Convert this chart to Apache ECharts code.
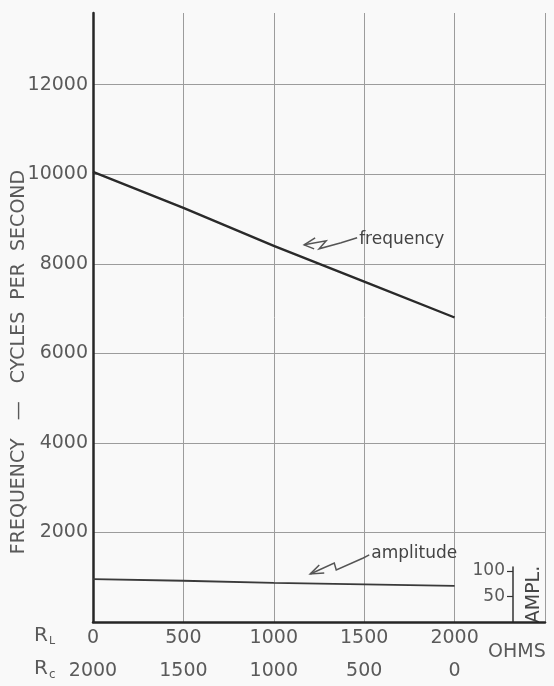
<!DOCTYPE html>
<html><head><meta charset="utf-8">
<script src="https://cdn.jsdelivr.net/npm/echarts@6/dist/echarts.min.js"></script>
<style>html,body{margin:0;padding:0;background:#f9f9f9;}#c{width:554px;height:686px;}</style>
</head><body><div id="c"></div>
<script>
// ---- data ----
var ohmsRL = [0, 500, 1000, 1500, 2000];
var frequency = [10050, 9250, 8400, 7600, 6800];
var amplitude = [84, 81, 77, 74, 71];
var rlTickLabels = ['0', '500', '1000', '1500', '2000'];
var rcTickLabels = ['2000', '1500', '1000', '500', '0'];
var freqTickLabels = ['2000', '4000', '6000', '8000', '10000', '12000'];
var amplTickValues = [50, 100];
var freqNote = {text: 'frequency', x: 1472, y: 8490};
var amplNote = {text: 'amplitude', x: 1539, y: 1475};

var FONT = 'DejaVu Sans';
var chart = echarts.init(document.getElementById('c'), null, {renderer: 'canvas'});
var dark = '#262626', grid = '#9c9c9c', txt = '#5a5a5a';

chart.setOption({
  backgroundColor: '#f9f9f9',
  animation: false,
  grid: [
    {left: 93, right: 9, top: 13, bottom: 64},
    {left: 93, right: 9, top: 567, bottom: 64}
  ],
  xAxis: [
    {gridIndex: 0, type: 'value', min: 0, max: 2500, interval: 500,
     axisLine: {show: true, onZero: false, lineStyle: {color: dark, width: 2.5}},
     axisTick: {show: false},
     axisLabel: {margin: 7, color: txt, fontFamily: FONT, fontSize: 19,
       formatter: function (v, i) { return rlTickLabels[i] !== undefined ? rlTickLabels[i] : ''; }},
     splitLine: {show: true, lineStyle: {color: grid, width: 1}}},
    {gridIndex: 0, type: 'value', min: 0, max: 2500, interval: 500, position: 'bottom', offset: 33,
     axisLine: {show: false}, axisTick: {show: false}, splitLine: {show: false},
     axisLabel: {margin: 7, color: txt, fontFamily: FONT, fontSize: 19,
       formatter: function (v, i) { return rcTickLabels[i] !== undefined ? rcTickLabels[i] : ''; }}},
    {gridIndex: 1, type: 'value', min: 0, max: 2500, show: false}
  ],
  yAxis: [
    {gridIndex: 0, type: 'value', min: 0, max: 13600, interval: 2000,
     axisLine: {show: true, onZero: false, lineStyle: {color: dark, width: 2.5}},
     axisTick: {show: false},
     axisLabel: {margin: 5, color: txt, fontFamily: FONT, fontSize: 19,
       showMaxLabel: false, showMinLabel: false,
       formatter: function (v) { var s = String(v); return freqTickLabels.indexOf(s) >= 0 ? s : ''; }},
     splitLine: {show: true, showMaxLine: false, lineStyle: {color: grid, width: 1}}},
    {gridIndex: 1, type: 'value', min: 0, max: 108, position: 'right', offset: -32,
     axisLine: {show: true, onZero: false, lineStyle: {color: '#333', width: 1.5}},
     axisTick: {show: true, inside: true, length: 6, customValues: amplTickValues, lineStyle: {color: '#333', width: 1.2}},
     axisLabel: {inside: true, margin: 8, color: txt, fontFamily: FONT, fontSize: 17, customValues: amplTickValues},
     splitLine: {show: false},
     name: 'AMPL.', nameLocation: 'middle', nameRotate: 90, nameGap: 12,
     nameTextStyle: {color: '#444', fontFamily: FONT, fontSize: 19}}
  ],
  series: [
    {name: 'frequency', type: 'line', xAxisIndex: 0, yAxisIndex: 0,
     data: ohmsRL.map(function (x, i) { return [x, frequency[i]]; }),
     showSymbol: false, lineStyle: {color: '#2a2a2a', width: 2.4}},
    {name: 'amplitude', type: 'line', xAxisIndex: 2, yAxisIndex: 1,
     data: ohmsRL.map(function (x, i) { return [x, amplitude[i]]; }),
     showSymbol: false, lineStyle: {color: '#3a3a3a', width: 1.8}}
  ]
});

function note(n, zig, head) {
  var p = chart.convertToPixel({xAxisIndex: 0, yAxisIndex: 0}, [n.x, n.y]);
  var pts = zig.map(function (d) { return [p[0] + d[0], p[1] + d[1]]; });
  var hd = head.map(function (d) { return [p[0] + d[0], p[1] + d[1]]; });
  return [
    {type: 'text', left: p[0], top: p[1] - 11, style: {text: n.text, fill: '#444', font: '17px "' + FONT + '"'}},
    {type: 'polyline', shape: {points: pts}, style: {stroke: '#555', lineWidth: 1.5, fill: null}},
    {type: 'polyline', shape: {points: hd}, style: {stroke: '#555', lineWidth: 1.5, fill: null}}
  ];
}

var g = [];
g = g.concat(note(freqNote, [[-55, 3], [-33, -1], [-40, 7], [-18, 1], [-2, -4]], [[-44, -4], [-55, 3], [-45, 7]]));
g = g.concat(note(amplNote, [[-61, 18], [-37, 7], [-35, 14], [-8, 2], [-2, -1]], [[-52, 9], [-61, 18], [-47, 17]]));
g.push({type: 'text', x: 19, y: 362, rotation: Math.PI / 2,
  style: {text: 'FREQUENCY   —   CYCLES  PER  SECOND', fill: txt, font: '19px "' + FONT + '"', align: 'center', verticalAlign: 'middle'}});
g.push({type: 'text', left: 34, top: 626, style: {text: '{r|R}{s|L}', rich: {r: {fill: txt, font: '20px "' + FONT + '"'}, s: {fill: txt, font: '11px "' + FONT + '"', padding: [11, 0, 0, 1]}}}});
g.push({type: 'text', left: 34, top: 659, style: {text: '{r|R}{s|c}', rich: {r: {fill: txt, font: '20px "' + FONT + '"'}, s: {fill: txt, font: '12px "' + FONT + '"', padding: [12, 0, 0, 1]}}}});
g.push({type: 'text', left: 488, top: 643, style: {text: 'OHMS', fill: txt, font: '19px "' + FONT + '"'}});
chart.setOption({graphic: g});
</script></body></html>
